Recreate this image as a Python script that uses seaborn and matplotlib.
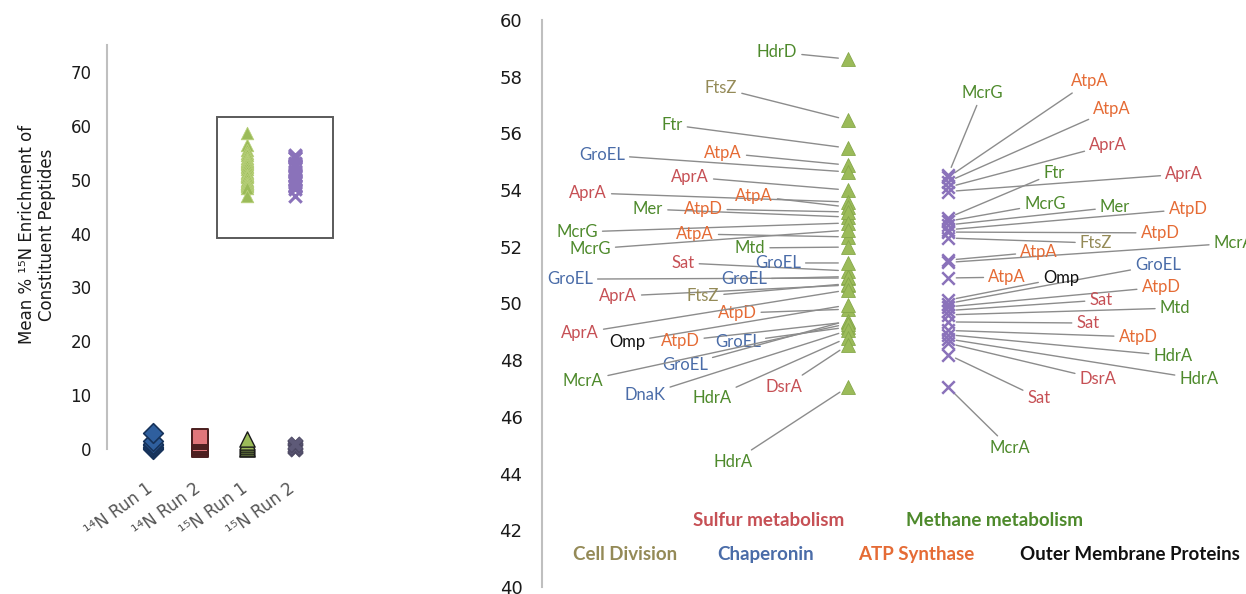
import matplotlib
matplotlib.use("Agg")
import matplotlib.pyplot as plt
from matplotlib.patches import Rectangle
from matplotlib.transforms import ScaledTranslation
import seaborn as sns

sns.set_theme(style="white")
plt.rcParams["font.family"] = ["DejaVu Sans"]

# ---------------------------------------------------------------- data
runs = ["¹⁴N Run 1", "¹⁴N Run 2", "¹⁵N Run 1", "¹⁵N Run 2"]

# peptides with natural-abundance nitrogen (per run)
run1_14n = [0.0, 0.2, 0.4, 0.7, 1.0, 1.4, 2.9]
run2_14n = [0.0, 0.3, 0.6, 1.0, 1.4, 1.8, 2.2]
run1_15n_low = [0.0, 0.2, 0.5, 0.9, 1.3, 1.8]
run2_15n_low = [0.0, 0.2, 0.4, 0.7, 1.0]

# 15N Run 1: labelled proteins
r1_proteins = ["HdrD", "FtsZ", "Ftr", "AtpA", "GroEL", "AprA", "AprA", "AtpA",
               "Mer", "AtpD", "McrG", "AtpA", "McrG", "Mtd", "Sat", "GroEL",
               "GroEL", "GroEL", "AprA", "FtsZ", "AtpD", "AprA", "Omp", "AtpD",
               "GroEL", "GroEL", "McrA", "DnaK", "HdrA", "DsrA", "HdrA"]
r1_groups = ["M", "C", "M", "A", "Ch", "S", "S", "A",
             "M", "A", "M", "A", "M", "M", "S", "Ch",
             "Ch", "Ch", "S", "C", "A", "S", "O", "A",
             "Ch", "Ch", "M", "Ch", "M", "S", "M"]
r1_enrichment = [58.62, 56.47, 55.48, 54.88, 54.64, 54.00, 53.58, 53.40,
                 53.05, 53.23, 52.84, 52.35, 52.59, 51.99, 51.15, 51.43,
                 50.90, 50.95, 50.65, 50.70, 49.80, 50.48, 49.95, 49.35,
                 49.17, 49.40, 49.29, 49.05, 48.80, 48.54, 47.06]

# 15N Run 2: labelled proteins
r2_proteins = ["McrG", "AtpA", "AtpA", "AprA", "Ftr", "AprA", "McrG", "Mer",
               "AtpD", "AtpD", "FtsZ", "McrA", "AtpA", "GroEL", "AtpA", "Omp",
               "AtpD", "Sat", "Mtd", "Sat", "AtpD", "HdrA", "HdrA", "DsrA",
               "Sat", "McrA"]
r2_groups = ["M", "A", "A", "S", "M", "S", "M", "M",
             "A", "A", "C", "M", "A", "Ch", "A", "O",
             "A", "S", "M", "S", "A", "M", "M", "S",
             "S", "M"]
r2_enrichment = [54.53, 54.45, 54.30, 54.10, 53.02, 53.95, 52.90, 52.77,
                 52.60, 52.52, 52.31, 51.45, 51.53, 50.00, 50.90, 50.12,
                 49.88, 49.75, 49.60, 49.35, 49.05, 48.90, 48.75, 48.60,
                 48.20, 47.05]

group_names = {"S": "Sulfur metabolism", "M": "Methane metabolism",
               "C": "Cell Division", "Ch": "Chaperonin",
               "A": "ATP Synthase", "O": "Outer Membrane Proteins"}

# ---------------------------------------------------------------- layout / style
group_colors = {"S": "#C65055", "M": "#4E8A2C", "C": "#948A57",
                "Ch": "#4A6CA8", "A": "#E56B35", "O": "#111111"}

# label anchor positions (data units of the right-hand axes)
r1_label_x = [-0.71, -1.27, -1.76, -1.25, -2.46, -1.58, -2.60, -0.94,
              -2.00, -1.45, -2.71, -1.53, -2.58, -0.98, -1.65, -0.70,
              -2.78, -1.04, -2.30, -1.45, -1.11, -2.68, -2.21, -1.68,
              -1.10, -1.63, -2.65, -2.03, -1.36, -0.64, -1.15]
r1_label_y = [58.87, 57.60, 56.30, 55.31, 55.24, 54.46, 53.90, 53.79,
              53.33, 53.33, 52.52, 52.45, 51.92, 51.96, 51.43, 51.43,
              50.86, 50.86, 50.26, 50.26, 49.66, 48.96, 48.64, 48.68,
              48.64, 47.83, 47.27, 46.77, 46.67, 47.05, 44.41]
r2_label_x = [1.34, 2.42, 2.64, 2.60, 2.06, 3.36, 1.97, 2.67,
              3.40, 3.12, 2.48, 3.86, 1.91, 3.10, 1.59, 2.13,
              3.13, 2.53, 3.27, 2.40, 2.90, 3.25, 3.51, 2.50,
              1.91, 1.62]
r2_label_y = [57.43, 57.85, 56.86, 55.59, 54.60, 54.57, 53.51, 53.40,
              53.33, 52.49, 52.13, 52.13, 51.82, 51.36, 50.93, 50.90,
              50.58, 50.12, 49.84, 49.31, 48.82, 48.15, 47.34, 47.34,
              46.67, 44.90]

GREEN = "#9BBB59"
PURPLE = "#8A72BA"
AXIS_GRAY = "#BFBFBF"
LINE_GRAY = "#8C8C8C"

fig = plt.figure(figsize=(12.46, 5.94), dpi=100)
axL = fig.add_axes([107 / 1246, 145 / 594, 235 / 1246, 404 / 594])
axR = fig.add_axes([542 / 1246, 7 / 594, 704 / 1246, 567 / 594])

# ---------------------------------------------------------------- left: overview
def strip(ax, run, values, order, **kw):
    sns.stripplot(x=[run] * len(values), y=values, order=order, jitter=False,
                  ax=ax, **kw)

strip(axL, runs[0], run1_14n, runs, marker="D", color="#2F5F9E",
      edgecolor="#16325A", linewidth=1.2, size=10)
strip(axL, runs[1], run2_14n, runs, marker="s", color="#E0767A",
      edgecolor="#4A1E1E", linewidth=1.4, size=11)
strip(axL, runs[2], run1_15n_low, runs, marker="^", color=GREEN,
      edgecolor="#1A1A1A", linewidth=1.0, size=11)
strip(axL, runs[3], run2_15n_low, runs, marker="X", color="#5E5A78",
      edgecolor="#4A4660", linewidth=0.5, size=11)
strip(axL, runs[2], r1_enrichment, runs, marker="^", color=GREEN,
      edgecolor="#B8D07A", linewidth=0.6, size=9)
strip(axL, runs[3], r2_enrichment, runs, marker="x", color=PURPLE,
      linewidth=2.2, size=9)

for coll in axL.collections:
    coll.set_clip_on(False)

axL.add_patch(Rectangle((1.35, 39.2), 2.46, 22.4, fill=False,
                        edgecolor="#5A5A5A", linewidth=1.4, zorder=0.5))

axL.set_xlim(-0.97, 4.0)
axL.set_ylim(0, 75)
axL.set_yticks(range(0, 80, 10))
axL.tick_params(axis="y", direction="out", length=5, width=1.2,
                color=AXIS_GRAY, labelsize=12, labelcolor="#1A1A1A", pad=6)
axL.set_xticks(range(len(runs)))
axL.set_xticklabels(runs, rotation=36, ha="right", rotation_mode="anchor",
                    fontsize=12, color="#555555")
axL.tick_params(axis="x", length=0, pad=22)
# nudge the slanted run names slightly left of their category
for lab in axL.get_xticklabels():
    lab.set_transform(lab.get_transform()
                      + ScaledTranslation(-0.07, 0, fig.dpi_scale_trans))
for side in ("top", "right", "bottom"):
    axL.spines[side].set_visible(False)
axL.spines["left"].set_color(AXIS_GRAY)
axL.spines["left"].set_linewidth(1.5)
axL.set_xlabel("")
axL.set_ylabel("Mean % ¹⁵N Enrichment of\nConstituent Peptides",
               fontsize=12, color="#1A1A1A", linespacing=1.2)
axL.yaxis.set_label_coords(-0.215, 0.53)

# ---------------------------------------------------------------- right: labelled proteins
order_r = runs[2:]
strip(axR, runs[2], r1_enrichment, order_r, marker="^", color=GREEN,
      edgecolor="#86A84A", linewidth=0.6, size=10, zorder=4)
strip(axR, runs[3], r2_enrichment, order_r, marker="x", color=PURPLE,
      linewidth=1.8, size=9, zorder=4)


def label_column(ax, pos, proteins, groups, values, lx, ly, shrink):
    for name, grp, val, x, y in zip(proteins, groups, values, lx, ly):
        ax.annotate(name, xy=(pos, val), xytext=(x, y),
                    xycoords="data", textcoords="data",
                    ha="center", va="center", fontsize=12, family="Lato",
                    color=group_colors[grp], zorder=3,
                    arrowprops=dict(arrowstyle="-", color=LINE_GRAY, lw=1.0,
                                    shrinkA=1, shrinkB=shrink))


label_column(axR, 0, r1_proteins, r1_groups, r1_enrichment,
             r1_label_x, r1_label_y, 7)
label_column(axR, 1, r2_proteins, r2_groups, r2_enrichment,
             r2_label_x, r2_label_y, 6)

# colour key for the functional groups
key_pos = {"S": (-0.79, 42.33), "M": (1.47, 42.33), "C": (-2.23, 41.13),
           "Ch": (-0.82, 41.13), "A": (0.68, 41.13), "O": (2.82, 41.13)}
for key, (x, y) in key_pos.items():
    axR.text(x, y, group_names[key], ha="center", va="center",
             fontsize=13.5, fontweight="bold", family="Lato",
             color=group_colors[key])

axR.set_xlim(-3.06, 3.98)
axR.set_ylim(40, 60)
axR.set_yticks(range(40, 62, 2))
axR.tick_params(axis="y", direction="out", length=6, width=1.2,
                color=AXIS_GRAY, labelsize=13, labelcolor="#1A1A1A", pad=8)
axR.set_xticks([])
axR.set_xlabel("")
axR.set_ylabel("")
for side in ("top", "right", "bottom"):
    axR.spines[side].set_visible(False)
axR.spines["left"].set_color(AXIS_GRAY)
axR.spines["left"].set_linewidth(1.5)

fig.savefig("out.png", dpi=100)
